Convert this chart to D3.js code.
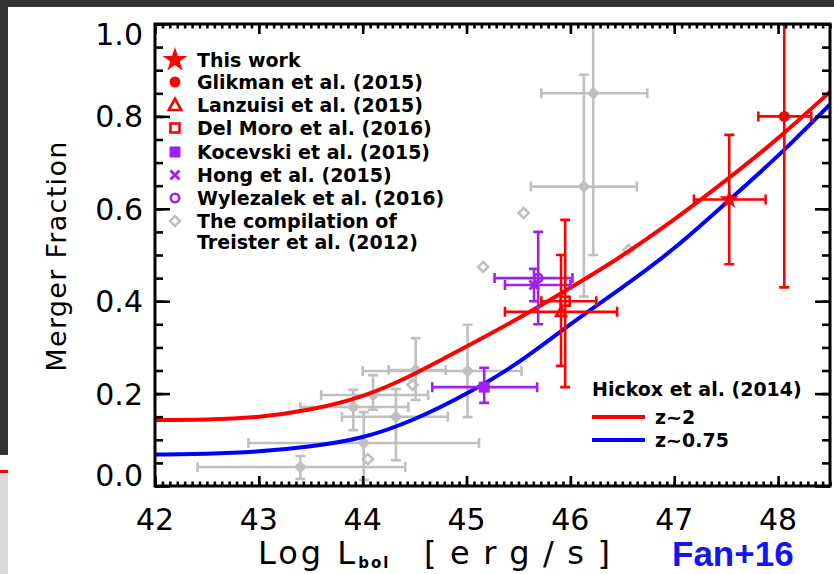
<!DOCTYPE html>
<html>
<head>
<meta charset="utf-8">
<script src="https://cdn.jsdelivr.net/npm/d3@7"></script>
<style>
body { margin: 0; background: #fff; }
svg { display: block; font-family: "DejaVu Sans", sans-serif; }
</style>
</head>
<body>
<div id="main"></div>
<script>
var ctx = { width: 834, height: 574, left: 155, right: 830, top: 24, bottom: 486 };

var xTickVals = [42, 43, 44, 45, 46, 47, 48];
var yTickVals = [0, 0.2, 0.4, 0.6, 0.8, 1.0];

// each point: [logL, fraction, xlo, xhi, ylo, yhi]
var thisWork = [[47.53, 0.62, 47.19, 47.88, 0.48, 0.76]];
var glikman = [[48.06, 0.80, 47.81, 48.32, 0.43, 1.0]];
var lanzuisi = [[45.91, 0.377, 45.37, 46.45, 0.26, 0.50]];
var delMoro = [[45.95, 0.40, 45.72, 46.25, 0.214, 0.576]];
var kocevski = [[45.17, 0.214, 44.67, 45.68, 0.18, 0.256]];
var hong = [[45.65, 0.435, 45.37, 46.0, 0.40, 0.47]];
var wylezalek = [[45.69, 0.45, 45.27, 46.02, 0.35, 0.55]];
var treister = [
    [46.22, 0.85, 45.72, 46.74, 0.50, 1.0],
    [46.13, 0.648, 45.62, 46.64, 0.41, 0.89],
    [45.01, 0.249, 44.0, 45.53, 0.149, 0.349],
    [44.51, 0.251, 44.25, 44.8, 0.186, 0.32],
    [44.10, 0.197, 43.6, 44.63, 0.165, 0.24],
    [43.91, 0.171, 43.4, 44.44, 0.121, 0.208],
    [44.32, 0.15, 43.8, 44.82, 0.056, 0.21],
    [44.01, 0.093, 42.9, 45.12, 0.013, 0.16],
    [43.40, 0.041, 42.41, 44.41, 0.015, 0.065]
];
// Treister points without error bars: [logL, fraction]
var treisterOpen = [[46.56, 0.511], [45.55, 0.591], [45.16, 0.474], [44.48, 0.219], [44.05, 0.058]];

// Hickox et al. (2014) model curves
var hickoxL = [42.0, 42.5, 43.0, 43.5, 44.0, 44.5, 45.0, 45.5, 46.0, 46.5, 47.0, 47.5, 48.0, 48.5];
var hickoxZ2 = [0.143, 0.144, 0.150, 0.166, 0.195, 0.243, 0.302, 0.363, 0.429, 0.499, 0.577, 0.662, 0.753, 0.853];
var hickoxZ075 = [0.068, 0.070, 0.075, 0.086, 0.106, 0.145, 0.200, 0.268, 0.350, 0.430, 0.515, 0.613, 0.715, 0.826];

var legendNames = ["This work", "Glikman et al. (2015)", "Lanzuisi et al. (2015)", "Del Moro et al. (2016)",
    "Kocevski et al. (2015)", "Hong et al. (2015)", "Wylezalek et al. (2016)", "The compilation of", "Treister et al. (2012)"];
var legendMarks = ["star", "circle", "triangle", "square", "squareFilled", "cross", "ring", "diamondOpen", null];
var legendColors = ["red", "red", "red", "red", "#a020f0", "#a020f0", "#a020f0", "#c0c0c0", null];

var RED = "#ff0000", PURPLE = "#a020f0", GREY = "#c0c0c0", BLUE = "#0000ff";

var x = d3.scaleLinear().domain([42, 48.5]).range([ctx.left, ctx.right]);
var y = d3.scaleLinear().domain([0, 1]).range([ctx.bottom, ctx.top]);

var svg = d3.select("#main").append("svg")
    .attr("width", ctx.width)
    .attr("height", ctx.height);

// screenshot border bits
svg.append("rect").attr("x", 0).attr("y", 0).attr("width", ctx.width).attr("height", 7).attr("fill", "#333");
svg.append("rect").attr("x", 0).attr("y", 0).attr("width", 8).attr("height", 455).attr("fill", "#333");
svg.append("rect").attr("x", 0).attr("y", 470).attr("width", 8).attr("height", 3).attr("fill", "#f00");
svg.append("rect").attr("x", 0).attr("y", 474).attr("width", 8).attr("height", 100).attr("fill", "#dadada");

svg.append("clipPath").attr("id", "plotclip")
  .append("rect")
    .attr("x", ctx.left).attr("y", ctx.top)
    .attr("width", ctx.right - ctx.left).attr("height", ctx.bottom - ctx.top);

var plot = svg.append("g").attr("clip-path", "url(#plotclip)");

function marker(g, type, cx, cy, color, big) {
    var k = big ? 1.25 : 1;
    if (type == "star") {
        g.append("path").attr("d", d3.symbol(d3.symbolStar, big ? 190 : 120)())
            .attr("transform", "translate(" + cx + "," + cy + ")").attr("fill", color);
    } else if (type == "circle") {
        g.append("circle").attr("cx", cx).attr("cy", cy).attr("r", 5.5).attr("fill", color);
    } else if (type == "ring") {
        g.append("circle").attr("cx", cx).attr("cy", cy).attr("r", 4.2)
            .attr("fill", "none").attr("stroke", color).attr("stroke-width", 2.6);
    } else if (type == "triangle") {
        var s = 5 * k;
        g.append("path").attr("d", "M" + cx + "," + (cy - s) + "L" + (cx + s) + "," + (cy + s * 0.8) + "L" + (cx - s) + "," + (cy + s * 0.8) + "Z")
            .attr("fill", "none").attr("stroke", color).attr("stroke-width", 2.6);
    } else if (type == "square" || type == "squareFilled") {
        var h = type == "square" ? 4.5 : 5.5;
        g.append("rect").attr("x", cx - h).attr("y", cy - h).attr("width", 2 * h).attr("height", 2 * h)
            .attr("fill", type == "square" ? "none" : color)
            .attr("stroke", type == "square" ? color : "none").attr("stroke-width", 2.6);
    } else if (type == "cross") {
        var c = 4.5;
        g.append("path").attr("d", "M" + (cx - c) + "," + (cy - c) + "L" + (cx + c) + "," + (cy + c) + "M" + (cx - c) + "," + (cy + c) + "L" + (cx + c) + "," + (cy - c))
            .attr("stroke", color).attr("stroke-width", 3).attr("fill", "none");
    } else if (type == "diamondOpen" || type == "diamond") {
        var r = type == "diamond" ? 6.5 : 5;
        g.append("path").attr("d", "M" + cx + "," + (cy - r) + "L" + (cx + r) + "," + cy + "L" + cx + "," + (cy + r) + "L" + (cx - r) + "," + cy + "Z")
            .attr("fill", type == "diamond" ? color : "none")
            .attr("stroke", color).attr("stroke-width", type == "diamond" ? 0 : 2.6);
    }
}

function errorBars(g, rows, color, type) {
    rows.forEach(function(d) {
        var px = x(d[0]), py = y(d[1]);
        var x0 = x(d[2]), x1 = x(d[3]), y0 = y(d[4]), y1 = y(d[5]);
        var cap = 5;
        var p = "M" + x0 + "," + py + "H" + x1 +
                "M" + x0 + "," + (py - cap) + "V" + (py + cap) +
                "M" + x1 + "," + (py - cap) + "V" + (py + cap) +
                "M" + px + "," + y0 + "V" + y1 +
                "M" + (px - cap) + "," + y0 + "H" + (px + cap) +
                "M" + (px - cap) + "," + y1 + "H" + (px + cap);
        g.append("path").attr("d", p).attr("fill", "none")
            .attr("stroke", color).attr("stroke-width", 2.6);
        marker(g, type, px, py, color, false);
    });
}

// Treister compilation (grey)
errorBars(plot, treister, GREY, "diamond");
treisterOpen.forEach(function(d) { marker(plot, "diamondOpen", x(d[0]), y(d[1]), GREY, false); });

// Hickox curves
var line = d3.line()
    .curve(d3.curveNatural)
    .x(function(d) { return x(d[0]); })
    .y(function(d) { return y(d[1]); });

plot.append("path")
    .attr("d", line(hickoxL.map(function(l, i) { return [l, hickoxZ075[i]]; })))
    .attr("fill", "none").attr("stroke", BLUE).attr("stroke-width", 4);
plot.append("path")
    .attr("d", line(hickoxL.map(function(l, i) { return [l, hickoxZ2[i]]; })))
    .attr("fill", "none").attr("stroke", RED).attr("stroke-width", 4);

errorBars(plot, kocevski, PURPLE, "squareFilled");
errorBars(plot, wylezalek, PURPLE, "ring");
errorBars(plot, hong, PURPLE, "cross");
errorBars(plot, lanzuisi, RED, "triangle");
errorBars(plot, delMoro, RED, "square");
errorBars(plot, glikman, RED, "circle");
errorBars(plot, thisWork, RED, "star");

// axes: ticks on all four sides
function styleTicks(g) {
    g.select(".domain").remove();
    g.selectAll("line").attr("stroke", "#000").attr("stroke-width", 2.6);
    g.selectAll("text").remove();
}
var xMinor = d3.range(42, 48.5001, 1 / 14);
var yMinor = d3.range(0, 1.0001, 0.05);

svg.append("g").attr("transform", "translate(0," + ctx.bottom + ")")
    .call(d3.axisBottom(x).tickValues(xMinor).tickSizeInner(-4.5).tickSizeOuter(0)).call(styleTicks);
svg.append("g").attr("transform", "translate(0," + ctx.bottom + ")")
    .call(d3.axisBottom(x).tickValues(xTickVals).tickSizeInner(-10).tickSizeOuter(0)).call(styleTicks);
svg.append("g").attr("transform", "translate(0," + ctx.top + ")")
    .call(d3.axisTop(x).tickValues(xMinor).tickSizeInner(-4.5).tickSizeOuter(0)).call(styleTicks);
svg.append("g").attr("transform", "translate(0," + ctx.top + ")")
    .call(d3.axisTop(x).tickValues(xTickVals).tickSizeInner(-10).tickSizeOuter(0)).call(styleTicks);
svg.append("g").attr("transform", "translate(" + ctx.left + ",0)")
    .call(d3.axisLeft(y).tickValues(yMinor).tickSizeInner(-8).tickSizeOuter(0)).call(styleTicks);
svg.append("g").attr("transform", "translate(" + ctx.left + ",0)")
    .call(d3.axisLeft(y).tickValues(yTickVals).tickSizeInner(-15).tickSizeOuter(0)).call(styleTicks);
svg.append("g").attr("transform", "translate(" + ctx.right + ",0)")
    .call(d3.axisRight(y).tickValues(yMinor).tickSizeInner(-8).tickSizeOuter(0)).call(styleTicks);
svg.append("g").attr("transform", "translate(" + ctx.right + ",0)")
    .call(d3.axisRight(y).tickValues(yTickVals).tickSizeInner(-15).tickSizeOuter(0)).call(styleTicks);

svg.append("rect")
    .attr("x", ctx.left).attr("y", ctx.top)
    .attr("width", ctx.right - ctx.left).attr("height", ctx.bottom - ctx.top)
    .attr("fill", "none").attr("stroke", "#000").attr("stroke-width", 3);

// tick labels
svg.append("g").selectAll("text")
    .data(xTickVals)
    .enter().append("text")
      .attr("x", function(d) { return x(d); })
      .attr("y", 530)
      .attr("text-anchor", "middle")
      .attr("font-size", 30)
      .text(function(d) { return d; });

svg.append("g").selectAll("text")
    .data(yTickVals)
    .enter().append("text")
      .attr("x", 143)
      .attr("y", function(d) {
          var py = y(d) + 11;
          if (d == 1) py = ctx.top + 21;
          if (d == 0) py = ctx.bottom;
          return py;
      })
      .attr("text-anchor", "end")
      .attr("font-size", 30)
      .text(function(d) { return d3.format(".1f")(d); });

// axis titles
svg.append("text")
    .attr("transform", "translate(66,256)rotate(-90)")
    .attr("text-anchor", "middle")
    .attr("font-size", 27)
    .attr("letter-spacing", 1.3)
    .text("Merger Fraction");

var xt = svg.append("text").attr("y", 564).attr("font-size", 32);
xt.append("tspan").attr("x", 258).attr("letter-spacing", 3).text("Log L");
xt.append("tspan").attr("font-size", 15).attr("dy", 4).attr("font-weight", "bold").attr("letter-spacing", 2).text("bol");
xt.append("tspan").attr("x", 424).attr("dy", -4)
    .attr("textLength", 186).attr("lengthAdjust", "spacing")
    .text("[erg/s]");

svg.append("text")
    .attr("x", 672).attr("y", 566)
    .attr("font-family", "Liberation Sans, Arial, sans-serif")
    .attr("font-weight", "bold")
    .attr("font-size", 35)
    .attr("fill", "#1515f0")
    .text("Fan+16");

// legend, upper left
var legendY = [60, 82, 105, 128, 152, 175, 198, 221, 242];
var legend = svg.append("g");
legendNames.forEach(function(name, i) {
    if (legendMarks[i]) marker(legend, legendMarks[i], 175, legendY[i], legendColors[i], true);
    legend.append("text")
        .attr("x", 197).attr("y", legendY[i] + 7)
        .attr("font-size", 19).attr("font-weight", "bold")
        .text(name);
});

// Hickox legend, lower right
var hick = svg.append("g");
hick.append("text").attr("x", 592).attr("y", 396).attr("font-size", 19).attr("font-weight", "bold")
    .text("Hickox et al. (2014)");
[["z~2", RED, 417], ["z~0.75", BLUE, 440]].forEach(function(r) {
    hick.append("line").attr("x1", 592).attr("x2", 645).attr("y1", r[2]).attr("y2", r[2])
        .attr("stroke", r[1]).attr("stroke-width", 4);
    hick.append("text").attr("x", 655).attr("y", r[2] + 7).attr("font-size", 19).attr("font-weight", "bold")
        .text(r[0]);
});
</script>
</body>
</html>
